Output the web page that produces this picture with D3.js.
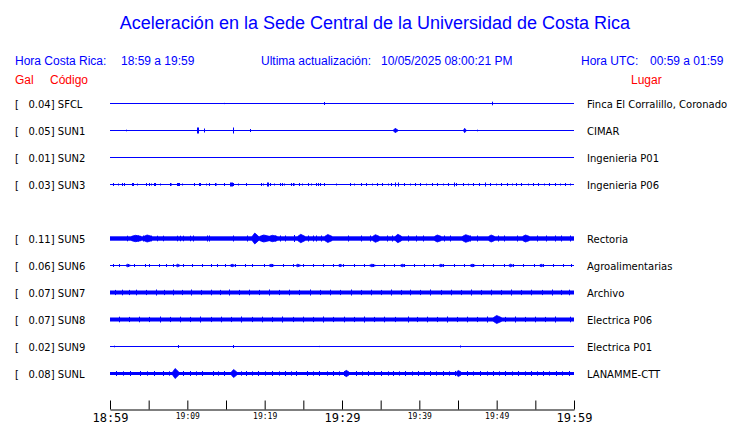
<!DOCTYPE html>
<html><head><meta charset="utf-8">
<script src="https://cdn.jsdelivr.net/npm/d3@7"></script>
<style>
html,body{margin:0;padding:0;background:#fff;}
svg text{white-space:pre;}
</style></head>
<body>
<svg id="chart" width="740" height="423"></svg>
<script>
// ---------- data ----------
const title = "Aceleración en la Sede Central de la Universidad de Costa Rica";
const headerCR = ["Hora Costa Rica:", "18:59 a 19:59"];
const headerUpd = ["Ultima actualización:", "10/05/2025 08:00:21 PM"];
const headerUTC = ["Hora UTC:", "00:59 a 01:59"];
const colHeads = ["Gal", "Código", "Lugar"];

const rowCodes = ["SFCL","SUN1","SUN2","SUN3","SUN4","SUN5","SUN6","SUN7","SUN8","SUN9","SUNL"];
const codes  = ["SFCL","SUN1","SUN2","SUN3","SUN5","SUN6","SUN7","SUN8","SUN9","SUNL"];
const gal    = ["0.04","0.05","0.01","0.03","0.11","0.06","0.07","0.07","0.02","0.08"];
const places = ["Finca El Corralillo, Coronado","CIMAR","Ingenieria P01","Ingenieria P06","Rectoria",
                "Agroalimentarias","Archivo","Electrica P06","Electrica P01","LANAMME-CTT"];

const tickMinutes = [0,5,10,15,20,25,30,35,40,45,50,55,60];
const tickLabels  = ["18:59","","19:09","","19:19","","19:29","","19:39","","19:49","","19:59"];
const majorLabels = ["18:59","19:29","19:59"];

// background noise half-amplitude per station
const noise = [0, 0, 0, 0, 2.2, 0, 2, 2, 0, 1.5];

// spikes: [minute, half-amplitude] ; bursts: [minute, peak half-amplitude, duration in minutes]
const spikes = [
  [[14.7,0.6],[27.7,1.5],[49.4,1.8]],
  [[2.1,0.8],[11.3,3],[11.4,3],[12.1,2],[15.9,3],[18.1,1.5],[47.5,0.8]],
  [],
  [[0.35,1.5],[1.0,1],[1.6,1.5],[1.85,1.5],[2.9,1.5],[3.0,1.5],[3.5,1],[4.65,1.5],[5.1,1.5],[5.3,1],[5.7,1.5],[5.85,1.5],
   [6.5,1],[7.7,1.5],[7.9,1],[8.7,1.5],[8.8,1.5],[8.95,1.5],[9.3,1],[10.9,1.5],[11.55,1.5],[11.7,1.5],[12.4,1],[12.85,1.5],
   [13.6,1.5],[13.75,1],[14.8,1.5],[15.5,2],[15.65,2],[15.8,2],[15.95,1.5],[16.6,1],[17.55,1.5],[19.5,1.5],[19.8,1],
   [20.25,2],[20.4,2],[20.7,1.5],[21.25,1],[22.0,1.5],[22.2,1.5],[22.55,1],[23.4,1.5],[23.6,1.5],[23.85,1],[24.5,1.5],
   [24.8,1],[25.6,1.5],[26.0,1],[26.7,1.5],[26.9,1.5],[27.15,1.5],[27.7,1.5],[29.2,1],[31.0,1.5],[31.6,1],[32.4,1.5],
   [33.1,1.5],[33.9,1],[34.5,1.5],[35.2,1.5],[36.0,1],[36.4,1.5],[36.9,2],[37.3,2],[38.0,1.5],[38.8,1],[39.5,1.5],
   [40.1,1.5],[40.9,1],[41.6,1.5],[42.3,1.5],[43.0,1],[43.7,1.5],[44.5,2],[44.8,1.5],[45.6,1.5],[46.3,1],[47.0,1.5],
   [47.7,1.5],[48.5,2],[49.2,1.5],[49.9,1],[50.6,1.5],[51.3,1.5],[52.0,1],[52.5,1.5],[53.2,1.5],[54.0,1],[54.7,1.5],
   [55.4,1.5],[56.1,1],[56.8,1.5],[57.5,1.5],[58.2,1],[58.9,1.5],[59.5,1]],
  [[2.2,2.8],[3.3,3],[3.6,3],[4.3,3],[5.3,2.8],[6.1,2.8],[6.9,2.8],[8.6,2.8],[9.0,2.8],[9.4,2.8],[10.3,2.8],[10.7,3],
   [12.5,3],[12.8,3],[15.9,3],[17.7,3],[19.6,3.5],[20.1,3],[21.4,3],[22.0,3],[22.6,3],[23.8,3.5],[25.6,3],[26.3,3],
   [26.7,3],[27.3,3],[30.8,3],[32.5,3],[33.6,3],[35.8,3],[36.5,3],[38.5,3],[39.6,3],[40.5,3],[43.2,3],[44.0,3],
   [46.6,3],[47.5,3],[50.2,3],[51.0,3],[52.6,3],[55.2,3],[56.4,3],[57.6,3],[58.3,3],[59.5,3]],
  [[0.4,1.5],[1.2,1.5],[2.3,1.5],[3.1,1.5],[4.5,1.5],[5.0,1.5],[6.4,1.5],[7.2,1.5],[8.1,1.5],[9.5,1.5],[10.6,1.5],
   [11.9,1.5],[13.0,1.5],[13.8,1.5],[14.9,1.5],[16.2,1.5],[17.4,1.5],[18.3,1.5],[19.9,1.5],[21.0,1.5],[22.4,1.5],
   [23.7,1.5],[25.0,1.5],[26.2,1.5],[27.6,1.5],[28.9,1.5],[30.1,1.5],[31.5,1.5],[32.8,1.5],[34.0,1.5],[35.4,1.5],
   [36.7,1.5],[38.0,1.5],[39.3,1.5],[40.6,1.5],[41.8,1.5],[43.1,1.5],[44.5,1.5],[45.8,1.5],[47.0,1.5],[48.2,1.5],
   [49.5,1.5],[50.9,1.5],[52.1,1.5],[53.4,1.5],[54.8,1.5],[56.0,1.5],[57.3,1.5],[58.6,1.5],[59.6,1.5]],
  [[0.6,2.6],[1.5,2.8],[2.4,2.6],[3.4,2.8],[4.6,2.6],[5.9,3],[7.0,2.6],[8.2,2.8],[9.3,2.6],[10.5,3],[11.8,2.6],
   [13.1,2.8],[14.2,2.6],[15.4,3],[16.7,2.6],[18.0,2.8],[19.3,2.6],[20.6,3],[21.9,2.6],[23.2,2.8],[24.5,2.6],[25.9,3],
   [27.1,2.6],[28.4,2.8],[29.8,2.6],[31.1,3],[32.4,2.6],[33.7,2.8],[35.0,2.6],[36.3,3],[37.6,2.6],[38.8,2.8],[40.1,2.6],
   [41.4,3],[42.8,2.6],[44.1,2.8],[45.4,2.6],[46.7,3],[48.0,2.6],[49.3,2.8],[50.6,2.6],[51.9,3],[53.2,2.6],[54.5,2.8],
   [55.8,2.6],[57.1,3],[58.3,2.6],[59.4,2.8]],
  [[1.2,2.8],[2.5,2.6],[3.8,2.8],[5.1,2.6],[6.5,3],[7.8,2.6],[9.1,2.8],[10.4,2.6],[11.7,3],[13.0,2.6],[14.4,2.8],
   [15.7,2.6],[17.0,3],[18.3,2.6],[19.6,2.8],[21.0,2.6],[22.3,3],[23.6,2.6],[24.9,2.8],[26.2,2.6],[27.5,3],[28.8,2.6],
   [30.2,2.8],[31.5,2.6],[32.8,3],[34.1,2.6],[35.4,2.8],[36.9,2.6],[38.5,3],[39.7,2.6],[41.0,2.8],[42.3,2.6],[43.6,3],
   [44.9,2.6],[46.2,2.8],[47.5,2.6],[48.8,3],[51.1,2.6],[52.4,3],[53.7,2.6],[55.0,2.8],[56.3,2.6],[57.6,3],[59.5,2.8]],
  [[0.5,0.8],[8.8,1.5],[15.9,1.5],[27.0,0.6],[45.3,1]],
  [[0.8,2.5],[1.7,2.2],[2.6,2.5],[3.9,2.5],[4.8,2.2],[5.7,2.5],[6.8,2.5],[7.6,2.2],[9.4,2.5],[10.4,2.5],[11.1,2.2],
   [11.9,2.5],[13.3,2.5],[14.0,2.2],[14.7,2.5],[17.0,2.2],[17.6,2.5],[18.4,2.2],[19.2,2.5],[20.1,2.2],[21.0,2.5],
   [21.8,2.2],[22.6,2.5],[23.4,2.2],[24.1,2.5],[25.5,2.5],[26.2,2.2],[27.0,2.5],[28.0,2.2],[28.8,2.5],[29.6,2.2],
   [30.3,2.5],[31.8,2.5],[32.6,2.2],[33.4,2.5],[34.2,2.2],[35.1,2.5],[35.9,2.2],[36.6,2.5],[37.4,2.2],[38.2,2.5],
   [39.0,2.2],[39.8,2.5],[40.6,2.2],[41.4,2.5],[42.2,2.2],[43.0,2.5],[43.8,2.2],[44.6,2.5],[46.2,2.5],[47.0,2.2],
   [47.9,2.5],[48.7,2.2],[49.5,2.5],[50.3,2.2],[51.1,2.5],[52.0,2.2],[52.8,2.5],[53.6,2.2],[54.4,2.5],[55.2,2.2],
   [56.0,2.5],[56.8,2.2],[57.7,2.5],[58.5,2.2],[59.3,2.5]]
];

const bursts = [
  [],
  [[36.6,2.2,0.7],[45.7,2.2,0.4]],
  [],
  [],
  [[2.8,3.2,1.2],[4.4,3.5,1.0],[18.4,5.5,0.8],[19.4,3.5,1.2],[20.6,3.2,1.0],[24.3,4.2,0.9],[27.8,4,0.9],
   [34.0,3.8,0.8],[36.9,4.2,0.8],[42.0,3.5,0.8],[45.6,3.8,1.0],[49.0,3.5,0.7],[53.4,3.5,0.8]],
  [[2.0,1.3,0.7],[8.5,1.3,0.6],[15.5,1.3,0.7],[20.5,1.3,0.8],[24.0,1.3,0.7],[29.5,1.3,0.6],[33.5,1.3,0.9],
   [37.5,1.3,0.7],[42.5,1.3,0.7],[46.5,1.3,0.8],[51.5,1.3,0.7],[55.5,1.3,0.6]],
  [],
  [[49.6,4,1.0]],
  [],
  [[8.1,5,0.8],[15.7,4,0.7],[30.3,3.2,0.6],[44.8,3,0.6]]
];

// ---------- drawing ----------
const svg = d3.select("#chart");
const blue = "#0000ff", red = "#ff0000";
const x = d3.scaleLinear().domain([0, 60]).range([110, 574]);
const yRow = d3.scalePoint().domain(rowCodes).range([103.5, 373.5]);

svg.append("text").attr("x", 375).attr("y", 29).attr("text-anchor", "middle")
  .attr("font-family", "Liberation Sans, Arial, sans-serif").attr("font-size", 18)
  .attr("fill", blue).text(title);

const hdr = svg.append("g").attr("font-family", "Liberation Sans, Arial, sans-serif")
  .attr("font-size", 12).attr("fill", blue);
hdr.append("text").attr("x", 15).attr("y", 65).text(headerCR[0]);
hdr.append("text").attr("x", 121).attr("y", 65).text(headerCR[1]);
hdr.append("text").attr("x", 261).attr("y", 65).text(headerUpd[0]);
hdr.append("text").attr("x", 381).attr("y", 65).text(headerUpd[1]);
hdr.append("text").attr("x", 581).attr("y", 65).text(headerUTC[0]);
hdr.append("text").attr("x", 650).attr("y", 65).text(headerUTC[1]);

const ch = svg.append("g").attr("font-family", "Liberation Sans, Arial, sans-serif")
  .attr("font-size", 12).attr("fill", red);
ch.append("text").attr("x", 15).attr("y", 84).text(colHeads[0]);
ch.append("text").attr("x", 50).attr("y", 84).text(colHeads[1]);
ch.append("text").attr("x", 631).attr("y", 84).text(colHeads[2]);

const lab = svg.append("g").attr("font-family", "DejaVu Sans, sans-serif").attr("font-size", 10).attr("fill", "#000");
codes.forEach((c, i) => {
  const y = yRow(c);
  lab.append("text").attr("x", 15).attr("y", y + 4).text("[   " + gal[i] + "] " + c);
  lab.append("text").attr("x", 587).attr("y", y + 4).text(places[i]);
});

const tr = svg.append("g");
codes.forEach((c, i) => {
  const y0 = yRow(c);
  const a = d3.scaleLinear().domain([-10, 10]).range([y0 + 10, y0 - 10]);
  const g = tr.append("g");
  if (noise[i] > 0) {
    g.append("rect").attr("x", x(0)).attr("width", x(60) - x(0))
      .attr("y", a(noise[i])).attr("height", a(-noise[i]) - a(noise[i])).attr("fill", blue);
  } else {
    g.append("line").attr("x1", x(0)).attr("x2", x(60)).attr("y1", y0).attr("y2", y0)
      .attr("stroke", blue).attr("stroke-width", 1);
  }
  g.selectAll("line.sp").data(spikes[i]).join("line").attr("class", "sp")
    .attr("x1", d => Math.round(x(d[0])) + 0.5).attr("x2", d => Math.round(x(d[0])) + 0.5)
    .attr("y1", d => a(d[1])).attr("y2", d => a(-d[1]))
    .attr("stroke", blue).attr("stroke-width", 1);
  // bursts drawn as spindles (envelope rising to a peak and falling back)
  const n = noise[i];
  g.selectAll("path.bu").data(bursts[i]).join("path").attr("class", "bu")
    .attr("d", d => {
      const x0 = x(d[0]), x1 = x(d[0] + d[2]), xm = x(d[0] + d[2] * 0.4);
      return `M${x0},${a(n)}L${xm},${a(d[1])}L${x1},${a(n)}L${x1},${a(-n)}L${xm},${a(-d[1])}L${x0},${a(-n)}Z`;
    })
    .attr("fill", blue).attr("stroke", blue).attr("stroke-width", 0.8);
});

const axis = d3.axisBottom(x).tickValues(tickMinutes)
  .tickFormat((d, i) => tickLabels[i]).tickSizeInner(-9).tickSizeOuter(0).tickPadding(4);
const ax = svg.append("g").attr("transform", "translate(0,409.5)").call(axis);
ax.select(".domain").attr("stroke", "#000");
ax.selectAll(".tick line").attr("stroke", "#000");
ax.selectAll(".tick text").attr("fill", "#000")
  .attr("font-family", "DejaVu Sans Mono, monospace")
  .attr("font-size", d => majorLabels.includes(tickLabels[tickMinutes.indexOf(d)]) ? 12 : 8)
  .attr("dy", null)
  .attr("y", d => majorLabels.includes(tickLabels[tickMinutes.indexOf(d)]) ? 12 : 9);
</script>
</body></html>
